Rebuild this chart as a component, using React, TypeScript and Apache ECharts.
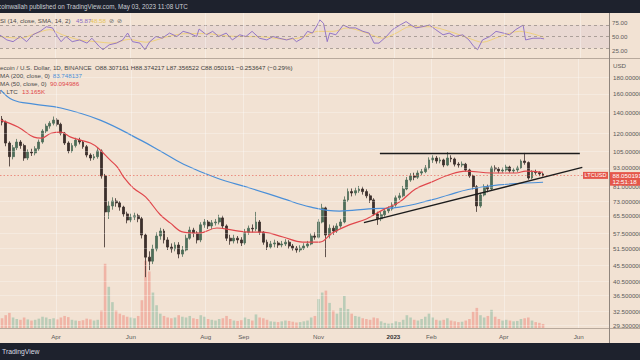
import React, { useEffect, useRef } from 'react';
import * as echarts from 'echarts';

const FONT = "'Liberation Sans', Arial, sans-serif";
const DAY_MS = 86400000;
const ts = (d: string) => Date.parse(d.length > 10 ? d : d + 'T00:00:00Z');

// visible time window
const viewStart = '2022-02-15T09:36:00Z';
const viewEnd = '2023-06-24T16:48:00Z';

// candles every 3 days: [open, close, low, high]
const candleStart = '2022-02-16';
const candleStepDays = 3;
const candles: number[][] = [
  [133, 130.0, 127, 136], [130.0, 111.6, 109, 131.5], [111.6, 101.0, 94, 113], [101.0, 107.8, 99, 110], [107.8, 112.4, 106, 115],
  [112.4, 109.5, 107, 114], [109.5, 100.0, 98, 111], [100.0, 104.5, 98.5, 106.5], [104.5, 103.8, 101.5, 107], [103.8, 107.0, 102, 109],
  [107.0, 112.4, 105.5, 114.5], [112.4, 121.8, 111, 123.5], [121.8, 126.3, 120, 128.5], [126.3, 129.0, 124, 131], [129.0, 132.0, 127, 135.5],
  [132.0, 128.0, 126, 134], [128.0, 119.9, 118, 129.5], [119.9, 111.6, 110, 121], [111.6, 105.3, 103.5, 113], [105.3, 109.5, 104, 111.5],
  [109.5, 114.0, 108, 116], [114.0, 112.4, 110.5, 116], [112.4, 108.6, 107, 114], [108.6, 102.2, 100.5, 110], [102.2, 100.0, 98, 103.5],
  [100.0, 101.0, 98.5, 103], [101.0, 105.3, 99.5, 107.5], [105.3, 87.7, 86, 106.5], [87.7, 67.4, 52, 89], [67.4, 70.4, 64, 73],
  [70.4, 73.0, 68.5, 75], [73.0, 72.0, 70, 74.5], [72.0, 69.8, 68, 73], [69.8, 66.4, 65, 70.5], [66.4, 63.5, 62, 67.5],
  [63.5, 64.9, 62.5, 66.5], [64.9, 65.5, 63.5, 67], [65.5, 64.1, 62.5, 66.5], [64.1, 56.9, 55.5, 65], [56.9, 48.4, 41.8, 57.5],
  [48.4, 47.0, 44, 50.5], [47.0, 51.4, 46, 53], [51.4, 56.5, 50.5, 58], [56.5, 58.6, 55, 60], [58.6, 54.9, 53.5, 59.5],
  [54.9, 52.1, 51, 56], [52.1, 51.4, 50, 53.5], [51.4, 52.9, 50.5, 54], [52.9, 49.5, 48, 54], [49.5, 51.0, 48.5, 52.5],
  [51.0, 55.6, 50.5, 57], [55.6, 59.0, 55, 60.5], [59.0, 57.7, 56, 60], [57.7, 54.9, 53.5, 58.5], [54.9, 61.3, 54, 62.5],
  [61.3, 62.6, 60, 64], [62.6, 60.8, 59.5, 63.5], [60.8, 62.2, 59.5, 63.5], [62.2, 62.6, 61, 64], [62.6, 64.5, 61.5, 66],
  [64.5, 60.8, 59.5, 65.5], [60.8, 55.6, 54.5, 61.5], [55.6, 54.5, 53, 57], [54.5, 55.6, 53.5, 57], [55.6, 54.9, 53.5, 56.5],
  [54.9, 53.7, 52.5, 56], [53.7, 58.1, 53, 59.5], [58.1, 59.8, 57, 61], [59.8, 59.5, 58, 61.5], [59.5, 62.6, 58.5, 67.4],
  [62.6, 58.1, 57, 63.5], [58.1, 54.0, 53, 58.5], [54.0, 52.1, 51, 55], [52.1, 53.3, 51.5, 54.5], [53.3, 53.7, 52, 55],
  [53.7, 52.9, 51.8, 54.5], [52.9, 53.3, 52, 54.5], [53.3, 54.0, 52.5, 55.2], [54.0, 52.5, 51.5, 54.8], [52.5, 51.7, 50.8, 53.3],
  [51.7, 51.0, 50, 52.5], [51.0, 51.7, 50.2, 52.8], [51.7, 52.5, 51, 53.6], [52.5, 53.3, 51.8, 54.5], [53.3, 56.5, 52.8, 57.6],
  [56.5, 56.0, 55, 58], [56.0, 62.6, 55.5, 64], [62.6, 69.4, 62, 71.5], [69.4, 56.9, 48.4, 70], [56.9, 59.8, 55.5, 61.5],
  [59.8, 58.6, 57, 61], [58.6, 60.8, 57.8, 62], [60.8, 62.6, 60, 64], [62.6, 73.6, 62, 75.5], [73.6, 78.2, 72.5, 80],
  [78.2, 77.4, 75.5, 80], [77.4, 78.7, 76, 80.5], [78.7, 79.7, 77.5, 81.5], [79.7, 78.2, 76.5, 81], [78.2, 75.8, 74.5, 79.5],
  [75.8, 73.6, 72, 77], [73.6, 66.4, 65.5, 74.5], [66.4, 64.1, 61.3, 67.5], [64.1, 66.0, 63, 67.5], [66.0, 67.9, 65, 69],
  [67.9, 68.9, 66.8, 70.2], [68.9, 70.9, 68, 72.3], [70.9, 74.7, 70, 76], [74.7, 75.8, 73.5, 77.5], [75.8, 79.7, 75, 81.5],
  [79.7, 85.1, 79, 87], [85.1, 87.7, 84, 89.5], [87.7, 86.9, 85, 89.8], [86.9, 89.6, 85.8, 91.3], [89.6, 90.5, 88.2, 92.3],
  [90.5, 93.0, 89.5, 95], [93.0, 98.6, 92, 100.5], [98.6, 100.0, 96.5, 102], [100.0, 97.8, 96, 101.5], [97.8, 98.6, 96.2, 100.5],
  [98.6, 95.0, 93.5, 99.5], [95.0, 100.0, 94.2, 104.5], [100.0, 99.3, 97, 102], [99.3, 95.6, 94, 100.3], [95.6, 95.0, 93.2, 97],
  [95.0, 95.6, 93.5, 97.5], [95.6, 91.6, 90.5, 96.5], [91.6, 87.7, 86.5, 92.5], [87.7, 81.0, 79.5, 88.5], [81.0, 70.4, 67.4, 82],
  [70.4, 76.3, 69.5, 77.5], [76.3, 81.0, 75.5, 82.5], [81.0, 79.7, 77.8, 82.3], [79.7, 93.0, 79, 94.5], [93.0, 92.3, 90.5, 94.8],
  [92.3, 91.0, 89.5, 93.5], [91.0, 91.6, 89.8, 93.2], [91.6, 93.6, 90.5, 95.2], [93.6, 91.0, 89.8, 94.5], [91.0, 91.6, 89.6, 93],
  [91.6, 93.0, 90.3, 94.5], [93.0, 97.8, 92.3, 99], [97.8, 96.7, 95.2, 103.8], [96.7, 86.4, 85.3, 97.5], [86.4, 90.5, 85.6, 91.5],
  [90.5, 89.9, 88.5, 91.8], [89.9, 89.0, 87.6, 90.8], [89.0, 88.05, 87.36, 89.6],
];

// volume per candle, thousands of LTC
const volumesK: number[] = [
  28, 36, 42, 30, 26, 24, 30, 25, 22, 24,
  27, 32, 30, 26, 28, 25, 30, 34, 31, 24,
  22, 21, 23, 27, 25, 22, 24, 48, 170, 110,
  70, 48, 40, 36, 32, 30, 28, 34, 75, 178,
  150, 95, 62, 40, 34, 30, 28, 30, 36, 32,
  30, 34, 28, 26, 36, 32, 26, 24, 22, 26,
  28, 34, 26, 22, 21, 23, 30, 26, 22, 38,
  30, 28, 24, 20, 19, 18, 20, 22, 21, 19,
  17, 18, 20, 22, 30, 34, 78, 95, 100, 68,
  48, 40, 55, 86, 52, 40, 34, 32, 28, 26,
  24, 30, 28, 20, 16, 14, 15, 20, 18, 24,
  36, 30, 24, 22, 26, 32, 40, 30, 24, 22,
  24, 28, 22, 20, 18, 19, 22, 26, 45, 55,
  36, 30, 34, 50, 32, 26, 22, 24, 22, 20,
  21, 26, 28, 30, 22, 18, 16, 13.165,
];

const ma200: [string, number][] = [
  ['2022-02-15', 164.5], ['2022-02-25', 152.9], ['2022-03-14', 148.4], ['2022-04-05', 144.2], ['2022-05-07', 132.0],
  ['2022-06-09', 114.0], ['2022-06-25', 105.3], ['2022-07-14', 95.5], ['2022-08-10', 86.4], ['2022-09-06', 80.3],
  ['2022-10-03', 74.3], ['2022-10-25', 69.9], ['2022-11-18', 67.8], ['2022-12-12', 68.9], ['2023-01-06', 69.8],
  ['2023-02-01', 73.6], ['2023-02-15', 76.3], ['2023-03-03', 79.4], ['2023-03-28', 82.1], ['2023-05-03', 83.748137],
];

const ma50: [string, number][] = [
  ['2022-02-15', 132.0], ['2022-03-01', 125.5], ['2022-03-14', 116.5], ['2022-03-20', 115.6], ['2022-03-28', 119.9],
  ['2022-04-05', 120.8], ['2022-04-13', 116.5], ['2022-04-21', 114.0], ['2022-04-29', 111.6], ['2022-05-05', 107.8],
  ['2022-05-15', 98.6], ['2022-05-21', 93.6], ['2022-05-26', 87.1], ['2022-06-03', 80.3], ['2022-06-13', 75.2],
  ['2022-06-25', 66.0], ['2022-07-03', 62.2], ['2022-07-14', 58.1], ['2022-07-27', 57.7], ['2022-08-10', 59.9],
  ['2022-08-23', 59.0], ['2022-09-06', 58.1], ['2022-09-16', 58.1], ['2022-10-03', 56.1], ['2022-10-19', 54.05],
  ['2022-11-02', 54.05], ['2022-11-12', 57.7], ['2022-11-26', 61.3], ['2022-12-10', 64.0], ['2022-12-23', 68.3],
  ['2023-01-06', 72.5], ['2023-01-19', 79.7], ['2023-02-01', 83.8], ['2023-02-15', 88.3], ['2023-03-01', 90.9],
  ['2023-03-22', 89.6], ['2023-04-11', 89.6], ['2023-04-19', 90.9], ['2023-05-03', 90.094986],
];

const rsi: [string, number][] = [
  ['2022-02-15', 53], ['2022-02-21', 44], ['2022-02-26', 41], ['2022-03-04', 50], ['2022-03-09', 41], ['2022-03-14', 53],
  ['2022-03-20', 59], ['2022-03-25', 67], ['2022-03-30', 65], ['2022-04-03', 50], ['2022-04-06', 41], ['2022-04-10', 50],
  ['2022-04-15', 41], ['2022-04-21', 44], ['2022-04-27', 38.5], ['2022-05-01', 47], ['2022-05-07', 32.5], ['2022-05-10', 27],
  ['2022-05-15', 35.5], ['2022-05-21', 38.5], ['2022-05-26', 44], ['2022-05-30', 56], ['2022-06-03', 41], ['2022-06-09', 38.5],
  ['2022-06-13', 27], ['2022-06-17', 41], ['2022-06-22', 50], ['2022-06-27', 47], ['2022-07-03', 56], ['2022-07-09', 50],
  ['2022-07-14', 59], ['2022-07-19', 56], ['2022-07-25', 50], ['2022-07-27', 63], ['2022-08-02', 53], ['2022-08-07', 59],
  ['2022-08-12', 50], ['2022-08-18', 56], ['2022-08-23', 44], ['2022-08-29', 53], ['2022-09-03', 50], ['2022-09-08', 59],
  ['2022-09-14', 47], ['2022-09-20', 44], ['2022-09-25', 50], ['2022-09-30', 47], ['2022-10-06', 44], ['2022-10-11', 47],
  ['2022-10-14', 41], ['2022-10-19', 47], ['2022-10-23', 59], ['2022-10-27', 56], ['2022-10-31', 70], ['2022-11-02', 79],
  ['2022-11-05', 73], ['2022-11-08', 41], ['2022-11-10', 56], ['2022-11-15', 53], ['2022-11-21', 70], ['2022-11-26', 65],
  ['2022-12-01', 65], ['2022-12-07', 59], ['2022-12-12', 56], ['2022-12-16', 38.5], ['2022-12-20', 38.5], ['2022-12-26', 50],
  ['2022-12-31', 62], ['2023-01-06', 70], ['2023-01-11', 76], ['2023-01-15', 70], ['2023-01-19', 65], ['2023-01-24', 67],
  ['2023-01-30', 70], ['2023-02-04', 62], ['2023-02-10', 53], ['2023-02-15', 56], ['2023-02-20', 50], ['2023-02-26', 53],
  ['2023-03-03', 44], ['2023-03-07', 32.5], ['2023-03-10', 27], ['2023-03-14', 44], ['2023-03-20', 50], ['2023-03-25', 59],
  ['2023-03-31', 56], ['2023-04-05', 53], ['2023-04-10', 62], ['2023-04-16', 70], ['2023-04-18', 44], ['2023-04-24', 47],
  ['2023-04-30', 47], ['2023-05-03', 45.87],
];

const rsiSma: [string, number][] = [
  ['2022-02-15', 50], ['2022-03-04', 47], ['2022-03-17', 56], ['2022-03-28', 62], ['2022-04-07', 53], ['2022-04-21', 44],
  ['2022-05-04', 41], ['2022-05-18', 38.5], ['2022-05-31', 45], ['2022-06-14', 40], ['2022-06-30', 49], ['2022-07-16', 55],
  ['2022-08-02', 55], ['2022-08-18', 51], ['2022-09-03', 50], ['2022-09-19', 49], ['2022-10-06', 45], ['2022-10-19', 49],
  ['2022-10-31', 59], ['2022-11-13', 59], ['2022-11-24', 65], ['2022-12-10', 56], ['2022-12-23', 47], ['2023-01-03', 56],
  ['2023-01-14', 67], ['2023-01-30', 67], ['2023-02-15', 59], ['2023-03-03', 47], ['2023-03-14', 40], ['2023-03-28', 50],
  ['2023-04-13', 59], ['2023-05-03', 48.58],
];

const priceTicks = [180, 160, 140, 120, 105, 93, 81, 73, 65.5, 57.5, 51.5, 45.5, 40.5, 36.5, 32.5, 29.3];
const rsiTicks = [25, 50, 75];
const rsiBands = [70, 50, 30];
const timeTicks: [string, string][] = [
  ['2022-04-01', 'Apr'], ['2022-06-01', 'Jun'], ['2022-08-01', 'Aug'], ['2022-09-01', 'Sep'], ['2022-11-01', 'Nov'],
  ['2023-01-01', '2023'], ['2023-02-01', 'Feb'], ['2023-04-01', 'Apr'], ['2023-06-01', 'Jun'],
];
const resistance: [string, number][] = [['2022-12-21', 103.3], ['2023-06-02', 103.3]];
const support: [string, number][] = [['2022-12-08', 62.3], ['2023-06-04', 93.4]];
const lastClose = 88.050191;

const headerText = 'coinwallah published on TradingView.com, May 03, 2023 11:08 UTC';
const symbolTitle = 'Litecoin / U.S. Dollar, 1D, BINANCE';
const ohlcText = 'O88.307161 H88.374217 L87.356522 C88.050191 \u22120.253647 (\u22120.29%)';

const BG = '#f2e2d3';
const UP = '#4f6d59';
const DOWN = '#3b2f2b';
const RED = '#e5574a';
const BLUE = '#4a8fd8';
const MA_RED = '#e0474c';

export default function App() {
  const ref = useRef<HTMLDivElement>(null);

  useEffect(() => {
    const chart = echarts.init(ref.current!, null, { renderer: 'svg' });
    const t0 = ts(candleStart);
    const candleTime = (i: number) => t0 + i * candleStepDays * DAY_MS;
    const xMin = ts(viewStart);
    const xMax = ts(viewEnd);
    const txt = { fontFamily: FONT, fontSize: 6.2 };

    const option: any = {
      animation: false,
      backgroundColor: BG,
      grid: [
        { left: 0, right: 31, top: 13, height: 45 },
        { left: 0, right: 31, top: 58.5, bottom: 31 },
      ],
      xAxis: [
        { type: 'time', gridIndex: 0, min: xMin, max: xMax, show: false },
        { type: 'time', gridIndex: 1, min: xMin, max: xMax, show: false },
      ],
      yAxis: [
        {
          type: 'value', gridIndex: 0, position: 'right', min: 12.5, max: 91, interval: 12.5,
          axisLine: { show: false }, axisTick: { show: false }, splitLine: { show: false },
          axisLabel: {
            ...txt, color: '#5d5d5d', margin: 3,
            formatter: (v: number) => (rsiTicks.some((r) => Math.abs(r - v) < 1e-6) ? v.toFixed(2) : ''),
          },
        },
        { type: 'log', gridIndex: 1, position: 'right', min: 28.6, max: 207.2, show: false },
        { type: 'value', gridIndex: 1, min: 0, max: 705, show: false },
      ],
      series: [
        {
          type: 'line', name: 'RSI', xAxisIndex: 0, yAxisIndex: 0, z: 3,
          data: rsi.map(([d, v]) => [ts(d), v]), symbol: 'none',
          lineStyle: { color: '#8a6bc4', width: 0.9 },
          markArea: { silent: true, itemStyle: { color: 'rgba(126,87,194,0.07)' }, data: [[{ yAxis: 70 }, { yAxis: 30 }]] },
          markLine: {
            silent: true, symbol: ['none', 'none'], label: { show: false },
            data: [
              ...rsiBands.map((b) => ({ yAxis: b, lineStyle: { color: '#9a908a', type: [3, 3], width: 0.8 } })),
              ...timeTicks.map(([d]) => ({ xAxis: ts(d), lineStyle: { color: 'rgba(255,255,255,0.35)', type: 'solid', width: 1 } })),
            ],
          },
        },
        {
          type: 'line', name: 'RSI SMA', xAxisIndex: 0, yAxisIndex: 0, z: 2, smooth: 0.3,
          data: rsiSma.map(([d, v]) => [ts(d), v]), symbol: 'none',
          lineStyle: { color: '#efcf72', width: 0.9 },
        },
        {
          type: 'bar', name: 'Volume', xAxisIndex: 1, yAxisIndex: 2, z: 1, barWidth: 2.6,
          data: volumesK.map((v, i) => ({
            value: [candleTime(i), v],
            itemStyle: { color: candles[i][1] >= candles[i][0] ? 'rgba(110,175,145,0.42)' : 'rgba(238,125,110,0.45)' },
          })),
          markLine: {
            silent: true, symbol: ['none', 'none'],
            lineStyle: { color: 'rgba(255,255,255,0.35)', type: 'solid', width: 1 },
            label: { position: 'start', distance: 4, formatter: (p: any) => p.name, color: '#5a5a5a', ...txt },
            data: timeTicks.map(([d, n]) => ({
              xAxis: ts(d), name: n,
              label: n === '2023' ? { fontWeight: 'bold', color: '#333' } : {},
            })),
          },
        },
        {
          type: 'candlestick', name: 'LTCUSD', xAxisIndex: 1, yAxisIndex: 1, z: 2, barWidth: 2.4,
          data: candles.map((c, i) => [candleTime(i), c[0], c[1], c[2], c[3]]),
          itemStyle: { color: UP, color0: DOWN, borderColor: UP, borderColor0: DOWN, borderWidth: 0.8 },
        },
        {
          type: 'line', name: 'SMA 200', xAxisIndex: 1, yAxisIndex: 1, z: 3, smooth: 0.4,
          data: ma200.map(([d, v]) => [ts(d), v]), symbol: 'none',
          lineStyle: { color: BLUE, width: 1.2 },
          markLine: {
            silent: true, symbol: ['none', 'none'],
            lineStyle: { color: 'rgba(255,255,255,0.28)', type: 'solid', width: 1 },
            label: { position: 'end', distance: 4, formatter: (p: any) => p.name, color: '#5a5a5a', ...txt },
            data: priceTicks.map((p) => ({ yAxis: p, name: p.toFixed(6) })),
          },
        },
        {
          type: 'line', name: 'SMA 50', xAxisIndex: 1, yAxisIndex: 1, z: 3, smooth: 0.4,
          data: ma50.map(([d, v]) => [ts(d), v]), symbol: 'none',
          lineStyle: { color: MA_RED, width: 1.2 },
          markLine: {
            silent: true, symbol: ['none', 'none'], label: { show: false },
            data: [
              { yAxis: lastClose, lineStyle: { color: RED, type: [1.5, 2], width: 0.8, opacity: 0.75 } },
              [
                { coord: [ts(resistance[0][0]), resistance[0][1]], lineStyle: { color: '#1c1c1c', width: 1.4, type: 'solid' } },
                { coord: [ts(resistance[1][0]), resistance[1][1]] },
              ],
              [
                { coord: [ts(support[0][0]), support[0][1]], lineStyle: { color: '#1c1c1c', width: 1.4, type: 'solid' } },
                { coord: [ts(support[1][0]), support[1][1]] },
              ],
            ],
          },
        },
      ],
    };

    chart.setOption(option);
    const py = chart.convertToPixel({ yAxisIndex: 1 } as any, lastClose) as number;

    const t = (x: number, y: number, text: string, fill: string, extra: any = {}) => ({
      type: 'text', x, y, z: 101, silent: true,
      style: { text, fill, fontFamily: FONT, fontSize: 6.2, verticalAlign: 'middle', align: 'left', ...extra },
    });

    const graphics: any[] = [
      { type: 'rect', z: 100, silent: true, shape: { x: 0, y: 0, width: 640, height: 13 }, style: { fill: '#1e222d' } },
      { type: 'rect', z: 100, silent: true, shape: { x: 0, y: 343, width: 640, height: 17 }, style: { fill: '#1e222d' } },
      t(-2, 6.7, headerText, '#c9ccd3', { fontSize: 6.3 }),
      t(2, 351.5, 'TradingView', '#d8dbe2', { fontSize: 6.8 }),
      { type: 'line', z: 100, silent: true, shape: { x1: 0, y1: 58.5, x2: 640, y2: 58.5 }, style: { stroke: '#b8a99c', lineWidth: 1 } },
      { type: 'line', z: 100, silent: true, shape: { x1: 0, y1: 328.5, x2: 640, y2: 328.5 }, style: { stroke: '#b8a99c', lineWidth: 1 } },
      { type: 'line', z: 100, silent: true, shape: { x1: 609.5, y1: 13, x2: 609.5, y2: 343 }, style: { stroke: '#8f857d', lineWidth: 1 } },
      // RSI legend
      t(-4.5, 20.7, 'RSI (14, close, SMA, 14, 2)', '#4a4a4a'),
      t(76, 20.7, '45.87', '#8a6bc4'),
      t(90.5, 20.7, '48.58', '#e6c35a'),
      t(109, 20.7, '\u2298', '#6b6b6b'),
      t(117, 20.7, '\u2298', '#6b6b6b'),
      // main legend
      t(-6.6, 67, symbolTitle, '#4a4a4a'),
      t(95, 67, ohlcText, '#3d3d3d'),
      t(-4.1, 75.3, 'SMA (200, close, 0)', '#4a4a4a'),
      t(52.7, 75.3, '83.748137', BLUE),
      t(-4.1, 83.5, 'SMA (50, close, 0)', '#4a4a4a'),
      t(50, 83.5, '90.094986', MA_RED),
      t(-7.6, 91.7, 'Vol \u00b7 LTC', '#4a4a4a'),
      t(22, 91.7, '13.165K', MA_RED),
      t(613, 65.7, 'USD', '#5a5a5a'),
      // current price labels
      { type: 'rect', z: 102, silent: true, shape: { x: 583, y: py - 3.5, width: 25, height: 7 }, style: { fill: RED } },
      t(595.5, py, 'LTCUSD', '#ffffff', { align: 'center', fontSize: 5.6 }),
      { type: 'rect', z: 102, silent: true, shape: { x: 610, y: py - 3.3, width: 30, height: 13.6 }, style: { fill: RED } },
      { ...t(612.5, py + 0.2, '88.050191', '#ffffff'), z: 103 },
      { ...t(612.5, py + 6.4, '12:51:18', '#ffffff'), z: 103 },
    ];
    graphics.forEach((g) => { if (g.type === 'text' && g.z < 103) g.z = g.style.fill === '#ffffff' ? 103 : 101; });
    chart.setOption({ graphic: graphics });

    return () => chart.dispose();
  }, []);

  return <div ref={ref} style={{ position: 'fixed', left: 0, top: 0, width: 640, height: 360 }} />;
}
